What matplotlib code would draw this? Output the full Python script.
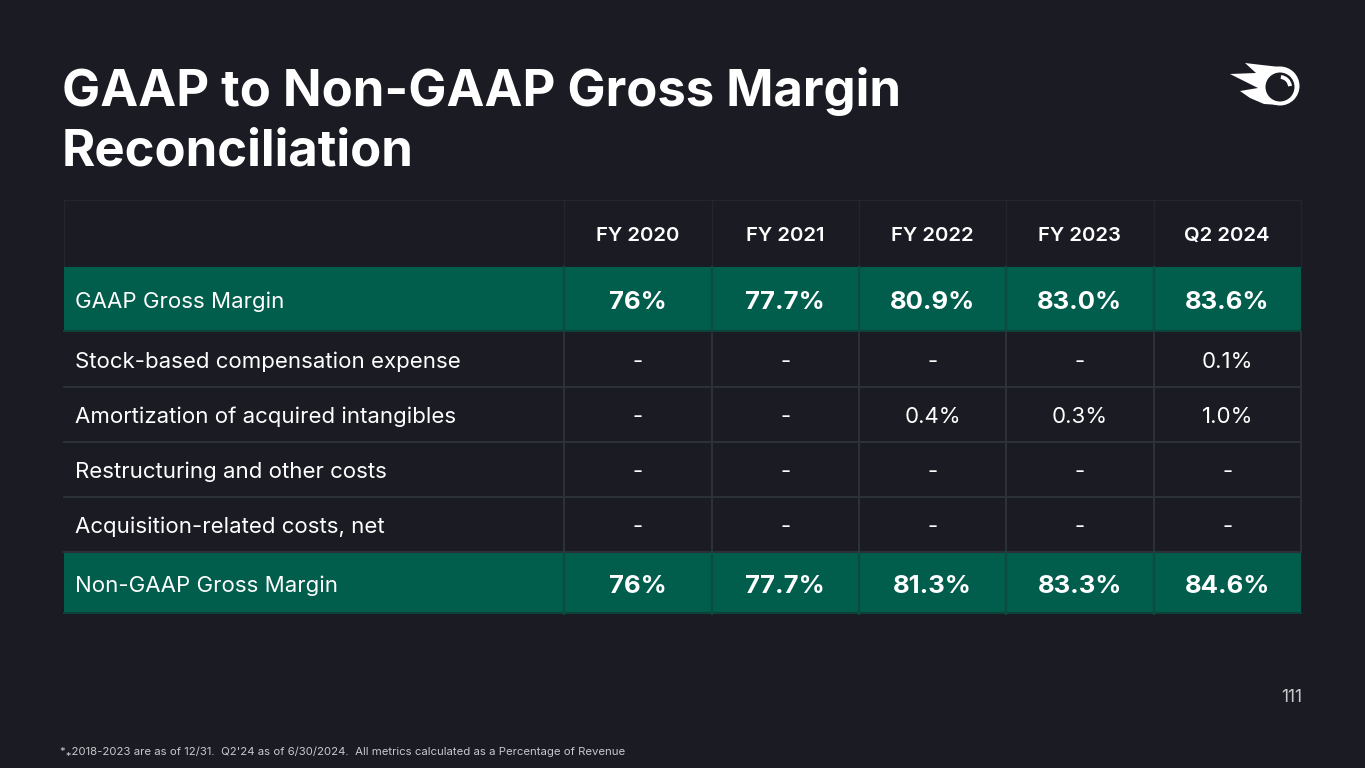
import matplotlib.pyplot as plt
from matplotlib.patches import Rectangle, Circle, Polygon, Arc

plt.rcParams['font.family'] = ['Inter', 'DejaVu Sans']

# table content
columns = ["FY 2020", "FY 2021", "FY 2022", "FY 2023", "Q2 2024"]
row_labels = ["GAAP Gross Margin",
              "Stock-based compensation expense",
              "Amortization of acquired intangibles",
              "Restructuring and other costs",
              "Acquisition-related costs, net",
              "Non-GAAP Gross Margin"]
gaap_margin = ["76%", "77.7%", "80.9%", "83.0%", "83.6%"]
stock_comp = ["-", "-", "-", "-", "0.1%"]
amortization = ["-", "-", "0.4%", "0.3%", "1.0%"]
restructuring = ["-", "-", "-", "-", "-"]
acquisition = ["-", "-", "-", "-", "-"]
non_gaap_margin = ["76%", "77.7%", "81.3%", "83.3%", "84.6%"]
rows = [gaap_margin, stock_comp, amortization, restructuring, acquisition, non_gaap_margin]
highlight = [True, False, False, False, False, True]

BG = '#1a1b23'
GREEN = '#015d4c'
GRID = '#2c3038'

fig = plt.figure(figsize=(13.65, 7.68), dpi=100, facecolor=BG)
ax = fig.add_axes([0, 0, 1, 1])
ax.set_xlim(0, 1365)
ax.set_ylim(768, 0)
ax.axis('off')
ax.set_facecolor(BG)

# title
ax.text(62, 106, "GAAP to Non-GAAP Gross Margin", color='white', fontsize=36.6,
        fontweight='bold', va='baseline', ha='left')
ax.text(62, 165, "Reconciliation", color='white', fontsize=36.6,
        fontweight='bold', va='baseline', ha='left')

# geometry
x0, x1 = 64, 1301
col_edges = [x0, 564, 711.5, 859, 1006, 1153.5, x1]
row_edges = [200, 267, 331.5, 387, 442, 497, 552, 614]

# header
ax.add_patch(Rectangle((x0, row_edges[0]), x1 - x0, row_edges[1] - row_edges[0],
                       facecolor=BG, edgecolor='#23262e', lw=1))
for j, c in enumerate(columns):
    xc = (col_edges[j + 1] + col_edges[j + 2]) / 2
    ax.text(xc, 241, c, color='white', fontsize=14.6,
            fontweight='semibold', ha='center', va='baseline')
for xe in col_edges[1:-1]:
    ax.plot([xe, xe], [row_edges[0], row_edges[1]], color='#23262e', lw=1)

# body rows
for i, (label, vals) in enumerate(zip(row_labels, rows)):
    top, bot = row_edges[i + 1], row_edges[i + 2]
    yc = (top + bot) / 2
    if highlight[i]:
        ax.add_patch(Rectangle((x0, top), x1 - x0, bot - top, facecolor=GREEN,
                               edgecolor='none'))
        ax.plot([x0, x1], [bot - 1, bot - 1], color='#0c4238', lw=1.5)
        for xe in col_edges[1:-1]:
            ax.plot([xe, xe], [top, bot], color='#0f4a3f', lw=1.5)
        ax.text(75, yc + 8.5, label, color='white', fontsize=16, ha='left', va='baseline')
        for j, v in enumerate(vals):
            xc = (col_edges[j + 1] + col_edges[j + 2]) / 2
            ax.text(xc, yc + 10, v, color='white', fontsize=18.5, fontweight='bold',
                    ha='center', va='baseline')
    else:
        ax.plot([x0, x1], [bot, bot], color=GRID, lw=1.5)
        for xe in col_edges[1:]:
            ax.plot([xe, xe], [top, bot], color=GRID, lw=1.5)
        ax.text(75, yc + 8.5, label, color='white', fontsize=16, ha='left', va='baseline')
        for j, v in enumerate(vals):
            xc = (col_edges[j + 1] + col_edges[j + 2]) / 2
            ax.text(xc, yc + 8.5, v, color='white', fontsize=16,
                    ha='center', va='baseline')

# logo
flame = Polygon([(1245, 63), (1262, 65), (1280, 67), (1280, 105), (1264, 104),
                 (1250, 98), (1240, 91), (1258, 88), (1242, 80), (1230, 74),
                 (1256, 73)],
                closed=True, facecolor='white', edgecolor='none')
ax.add_patch(flame)
ax.add_patch(Circle((1280, 86), 19.5, facecolor='white', edgecolor='none'))
ax.add_patch(Circle((1280, 87), 14.5, facecolor=BG, edgecolor='none'))
ax.add_patch(Arc((1280, 87), 20, 20, theta1=275, theta2=355, color='white', lw=2.8))

# page number and footnote
ax.text(1302, 697, "111", color='#c8c8cc', fontsize=12.5, ha='right', va='center')
ax.text(60, 752, "*\u204e2018-2023 are as of 12/31.  Q2'24 as of 6/30/2024.  All metrics calculated as a Percentage of Revenue",
        color='#c8c8cc', fontsize=8.2, ha='left', va='center')

fig.savefig('out.png', dpi=100, facecolor=BG)
